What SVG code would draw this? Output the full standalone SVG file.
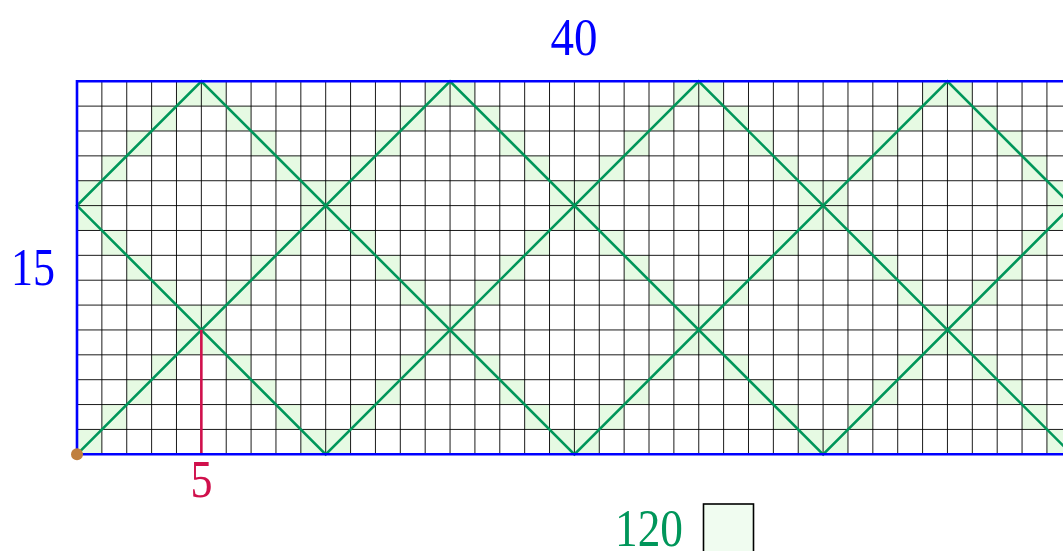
<svg xmlns="http://www.w3.org/2000/svg" width="1063" height="551" viewBox="0 0 1063 551">
<style>
.lbl{font-family:"Liberation Serif","Times New Roman",serif;font-size:53px}
.grid{fill:none;stroke:#000;stroke-width:0.9}
.path{fill:none;stroke:#00965a;stroke-width:2.6;stroke-linejoin:miter}
.border{fill:none;stroke:#0000ff;stroke-width:2.6}
</style>
<rect width="1063" height="551" fill="#fff"/>
<g id="shading" transform="translate(77 454.3) scale(24.87 -24.87)" fill="#e6fae3">
<path d="M0 0h1v1h-1z M1 1h1v1h-1z M2 2h1v1h-1z M3 3h1v1h-1z M4 4h1v1h-1z M5 5h1v1h-1z M6 6h1v1h-1z M7 7h1v1h-1z M8 8h1v1h-1z M9 9h1v1h-1z M10 10h1v1h-1z M11 11h1v1h-1z M12 12h1v1h-1z M13 13h1v1h-1z M14 14h1v1h-1z
M15 14h1v1h-1z M16 13h1v1h-1z M17 12h1v1h-1z M18 11h1v1h-1z M19 10h1v1h-1z M20 9h1v1h-1z M21 8h1v1h-1z M22 7h1v1h-1z M23 6h1v1h-1z M24 5h1v1h-1z M25 4h1v1h-1z M26 3h1v1h-1z M27 2h1v1h-1z M28 1h1v1h-1z M29 0h1v1h-1z
M30 0h1v1h-1z M31 1h1v1h-1z M32 2h1v1h-1z M33 3h1v1h-1z M34 4h1v1h-1z M35 5h1v1h-1z M36 6h1v1h-1z M37 7h1v1h-1z M38 8h1v1h-1z M39 9h1v1h-1z
M39 10h1v1h-1z M38 11h1v1h-1z M37 12h1v1h-1z M36 13h1v1h-1z M35 14h1v1h-1z
M34 14h1v1h-1z M33 13h1v1h-1z M32 12h1v1h-1z M31 11h1v1h-1z M30 10h1v1h-1z M29 9h1v1h-1z M28 8h1v1h-1z M27 7h1v1h-1z M26 6h1v1h-1z M25 5h1v1h-1z M24 4h1v1h-1z M23 3h1v1h-1z M22 2h1v1h-1z M21 1h1v1h-1z M20 0h1v1h-1z
M19 0h1v1h-1z M18 1h1v1h-1z M17 2h1v1h-1z M16 3h1v1h-1z M15 4h1v1h-1z M14 5h1v1h-1z M13 6h1v1h-1z M12 7h1v1h-1z M11 8h1v1h-1z M10 9h1v1h-1z M9 10h1v1h-1z M8 11h1v1h-1z M7 12h1v1h-1z M6 13h1v1h-1z M5 14h1v1h-1z
M4 14h1v1h-1z M3 13h1v1h-1z M2 12h1v1h-1z M1 11h1v1h-1z M0 10h1v1h-1z
M0 9h1v1h-1z M1 8h1v1h-1z M2 7h1v1h-1z M3 6h1v1h-1z M4 5h1v1h-1z M5 4h1v1h-1z M6 3h1v1h-1z M7 2h1v1h-1z M8 1h1v1h-1z M9 0h1v1h-1z
M10 0h1v1h-1z M11 1h1v1h-1z M12 2h1v1h-1z M13 3h1v1h-1z M14 4h1v1h-1z M15 5h1v1h-1z M16 6h1v1h-1z M17 7h1v1h-1z M18 8h1v1h-1z M19 9h1v1h-1z M20 10h1v1h-1z M21 11h1v1h-1z M22 12h1v1h-1z M23 13h1v1h-1z M24 14h1v1h-1z
M25 14h1v1h-1z M26 13h1v1h-1z M27 12h1v1h-1z M28 11h1v1h-1z M29 10h1v1h-1z M30 9h1v1h-1z M31 8h1v1h-1z M32 7h1v1h-1z M33 6h1v1h-1z M34 5h1v1h-1z M35 4h1v1h-1z M36 3h1v1h-1z M37 2h1v1h-1z M38 1h1v1h-1z M39 0h1v1h-1z"/>
</g>
<g id="grid">
<path class="grid" d="M101.87 81.25V454.3M126.74 81.25V454.3M151.61 81.25V454.3M176.48 81.25V454.3M201.35 81.25V454.3M226.22 81.25V454.3M251.09 81.25V454.3M275.96 81.25V454.3M300.83 81.25V454.3M325.7 81.25V454.3M350.57 81.25V454.3M375.44 81.25V454.3M400.31 81.25V454.3M425.18 81.25V454.3M450.05 81.25V454.3M474.92 81.25V454.3M499.79 81.25V454.3M524.66 81.25V454.3M549.53 81.25V454.3M574.4 81.25V454.3M599.27 81.25V454.3M624.14 81.25V454.3M649.01 81.25V454.3M673.88 81.25V454.3M698.75 81.25V454.3M723.62 81.25V454.3M748.49 81.25V454.3M773.36 81.25V454.3M798.23 81.25V454.3M823.1 81.25V454.3M847.97 81.25V454.3M872.84 81.25V454.3M897.71 81.25V454.3M922.58 81.25V454.3M947.45 81.25V454.3M972.32 81.25V454.3M997.19 81.25V454.3M1022.06 81.25V454.3M1046.93 81.25V454.3
M77 429.43H1072M77 404.56H1072M77 379.69H1072M77 354.82H1072M77 329.95H1072M77 305.08H1072M77 280.21H1072M77 255.34H1072M77 230.47H1072M77 205.6H1072M77 180.73H1072M77 155.86H1072M77 130.99H1072M77 106.12H1072"/>
</g>
<g id="connectors">
<polyline id="billiard-path" class="path" points="77,454.3 450.05,81.25 823.1,454.3 1071.8,205.6 947.45,81.25 574.4,454.3 201.35,81.25 77,205.6 325.7,454.3 698.75,81.25 1071.8,454.3"/>
<line id="height-marker" x1="201.35" y1="329.95" x2="201.35" y2="454.3" stroke="#d0104c" stroke-width="2.6"/>
</g>
<g id="border">
<path class="border" d="M1072 81.25H77V454.3H1072"/>
</g>
<g id="origin"><circle cx="77" cy="454.3" r="6" fill="#c0803f"/></g>
<g id="label-width"><text class="lbl" x="574" y="55" text-anchor="middle" fill="#0000ff" textLength="47" lengthAdjust="spacingAndGlyphs">40</text></g>
<g id="label-height"><text class="lbl" x="33" y="285" text-anchor="middle" fill="#0000ff" textLength="44" lengthAdjust="spacingAndGlyphs">15</text></g>
<g id="label-five"><text class="lbl" x="201.5" y="497" text-anchor="middle" fill="#d0104c" textLength="22" lengthAdjust="spacingAndGlyphs">5</text></g>
<g id="legend">
<text class="lbl" x="649" y="546" text-anchor="middle" fill="#00965a" textLength="68" lengthAdjust="spacingAndGlyphs">120</text>
<rect x="703.5" y="504" width="50" height="50" fill="#f0fcf0" stroke="#000" stroke-width="1.6"/>
</g>
</svg>
